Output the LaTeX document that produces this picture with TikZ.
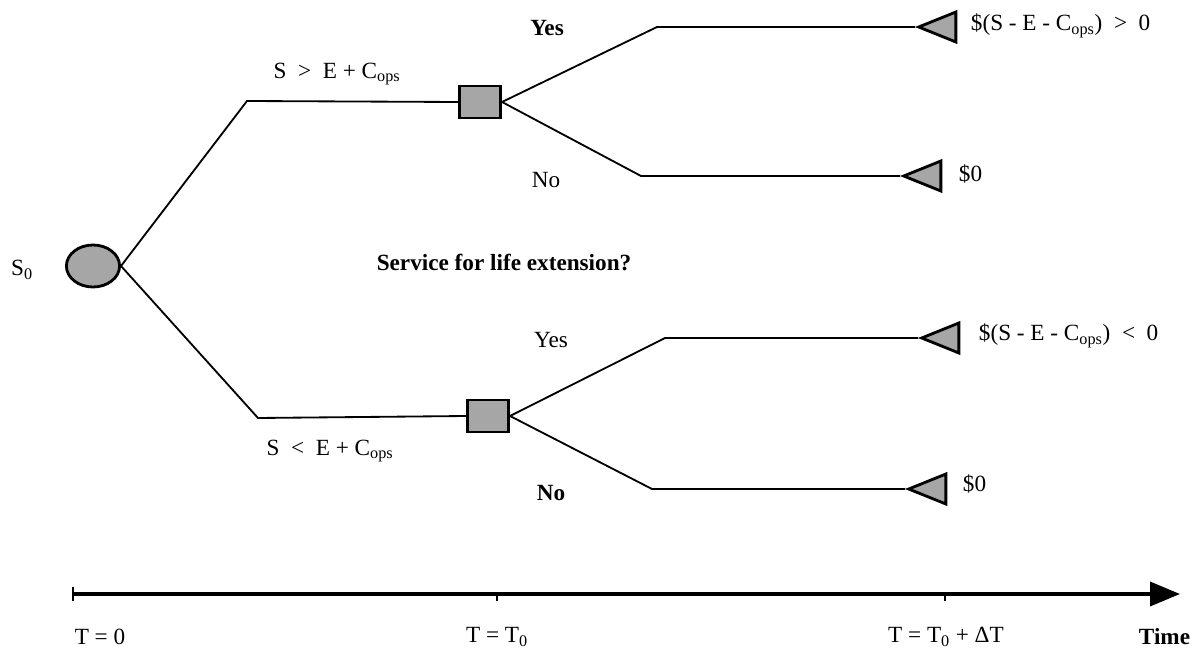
\documentclass[tikz,border=0pt]{standalone}
\usepackage{fontspec}
\setmainfont{Liberation Serif}
\usetikzlibrary{arrows.meta, positioning, shapes.geometric}
\definecolor{cfill}{HTML}{A6A6A6}
\tikzset{
  every picture/.style={line width=1.3pt},
  chance/.style={ellipse, draw, fill=cfill, line width=2pt, minimum width=1.33cm, minimum height=1.05cm, inner sep=0pt},
  decision/.style={rectangle, draw, fill=cfill, line width=2pt, minimum width=1.03cm, minimum height=0.8cm, inner sep=0pt},
  payoff/.style={isosceles triangle, isosceles triangle stretches, shape border rotate=180, draw, fill=cfill, line width=2pt, minimum width=0.75cm, minimum height=0.93cm, inner sep=0pt, anchor=apex},
  branch/.style={line width=1.3pt},
  lbl/.style={font=\fontsize{16.5}{20}\selectfont, inner sep=0pt},
  axis/.style={-{Triangle[length=0.75cm, width=0.6cm]}, line width=2.6pt},
}

\begin{document}
\begin{tikzpicture}[x=0.025cm, y=-0.025cm]
  \useasboundingbox (0,0) rectangle (1195,649);
  % nodes of the tree
  \node[chance] (root) at (93,266) {};
  \node[lbl] (s0) at (22,270) {S\textsubscript{0}};
  \coordinate (up) at (247,101);
  \coordinate (lo) at (258,418);
  \node[decision] (d1) at (480,102) {};
  \node[decision] (d2) at (488,416) {};
  \coordinate (y1) at (657,27);
  \coordinate (n1) at (641,176);
  \coordinate (y2) at (665,338);
  \coordinate (n2) at (652,489);
  \node[payoff] (p1) at (915,27) {};
  \node[payoff] (p2) at (900,176) {};
  \node[payoff] (p3) at (918,338) {};
  \node[payoff] (p4) at (905,489) {};
  % branches
  \draw[branch] (root.east) -- (up) -- (d1.west);
  \draw[branch] (root.east) -- (lo) -- (d2.west);
  \draw[branch] (d1.east) -- (y1) -- (p1.apex);
  \draw[branch] (d1.east) -- (n1) -- (p2.apex);
  \draw[branch] (d2.east) -- (y2) -- (p3.apex);
  \draw[branch] (d2.east) -- (n2) -- (p4.apex);
  % labels
  \node[lbl] (c1) at (337,74) {S\enspace>\enspace E + C\textsubscript{ops}};
  \node[lbl] (c2) at (330,451) {S\enspace<\enspace E + C\textsubscript{ops}};
  \node[lbl, font=\fontsize{16.5}{20}\selectfont\bfseries] (yes1) at (547,28) {Yes};
  \node[lbl] (no1) at (546,180) {No};
  \node[lbl] (yes2) at (551,340) {Yes};
  \node[lbl, font=\fontsize{16.5}{20}\selectfont\bfseries] (no2) at (551,493) {No};
  \node[lbl, font=\fontsize{16.5}{20}\selectfont\bfseries] (q) at (504,262) {Service for life extension?};
  \node[lbl, anchor=west] (v1) at (970,26) {\$(S - E - C\textsubscript{ops})\enspace>\enspace0};
  \node[lbl, anchor=west] (v2) at (958,174) {\$0};
  \node[lbl, anchor=west] (v3) at (978,336) {\$(S - E - C\textsubscript{ops})\enspace<\enspace0};
  \node[lbl, anchor=west] (v4) at (962,484) {\$0};
  % time axis
  \coordinate (a0) at (73,594);
  \coordinate (a1) at (497,594);
  \coordinate (a2) at (945,594);
  \coordinate (aend) at (1180,594);
  \draw[axis] (a0) -- (aend);
  \draw[line width=1.2pt] ([yshift=0.17cm]a0) -- ([yshift=-0.17cm]a0);
  \draw[line width=1pt] (a1) -- ([yshift=-0.17cm]a1);
  \draw[line width=1pt] (a2) -- ([yshift=-0.17cm]a2);
  \node[lbl] (t0) at (100,637) {T = 0};
  \node[lbl] (t1) at (497,637) {T = T\textsubscript{0}};
  \node[lbl] (t2) at (946,637) {T = T\textsubscript{0} + ΔT};
  \node[lbl, anchor=east, font=\fontsize{16.5}{20}\selectfont\bfseries] (tm) at (1191,637) {Time};
\end{tikzpicture}
\end{document}
